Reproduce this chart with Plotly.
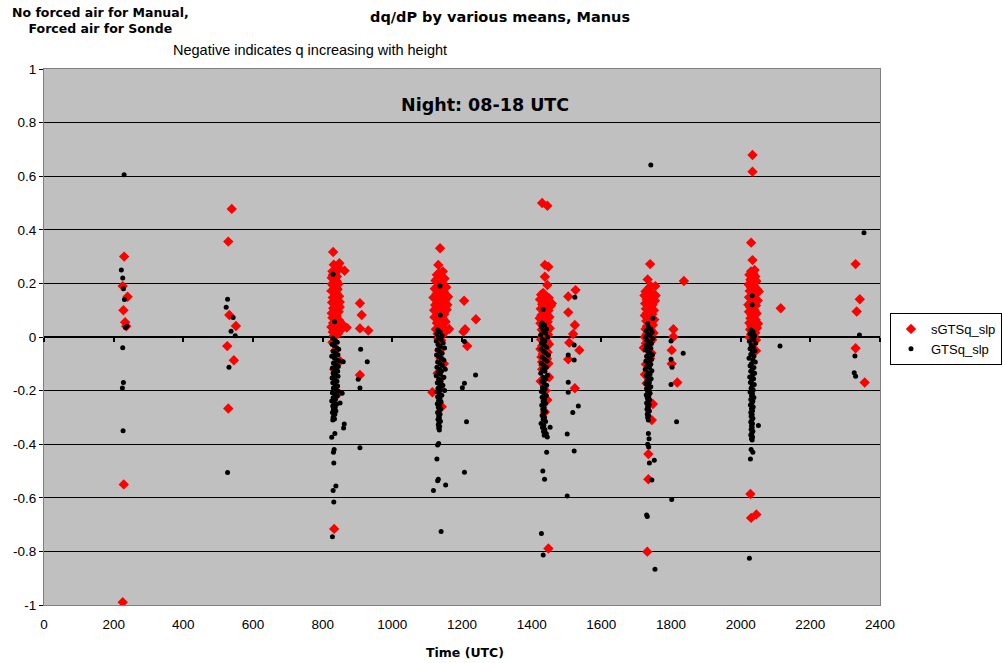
import plotly.graph_objects as go

# ---------------- data ----------------
# sGTSq_slp (red diamonds), pairs of (time UTC, dq/dP)
red_0230 = [(230, 0.30), (226, 0.19), (240, 0.15), (228, 0.10), (233, 0.055), (236, 0.04),
            (229, -0.55), (226, -0.99)]
red_0530 = [(539, 0.478), (529, 0.356), (532, 0.082), (551, 0.041), (526, -0.034),
            (545, -0.087), (529, -0.267)]
red_0830 = [(830, 0.317), (832, 0.27), (848, 0.275), (863, 0.247),
            (828, 0.245), (835, 0.238), (841, 0.226), (826, 0.221), (832, 0.214), (839, 0.209),
            (845, 0.198), (830, 0.192), (836, 0.186), (843, 0.178), (825, 0.172), (833, 0.168),
            (840, 0.161), (847, 0.152), (829, 0.147), (837, 0.141), (844, 0.136), (827, 0.129),
            (834, 0.124), (842, 0.117), (849, 0.112), (831, 0.106), (838, 0.101), (846, 0.094),
            (826, 0.089), (833, 0.083), (840, 0.078), (828, 0.072), (836, 0.066), (843, 0.061),
            (850, 0.057), (830, 0.052), (837, 0.047), (845, 0.041), (825, 0.037), (832, 0.032),
            (839, 0.028), (847, 0.024), (829, 0.019), (836, 0.015), (844, 0.012), (827, 0.198),
            (834, 0.176), (841, 0.153), (849, 0.131), (831, 0.108), (838, 0.086), (846, 0.064),
            (835, 0.043), (842, 0.026), (852, 0.035), (858, 0.045), (829, 0.231), (840, 0.207),
            (855, 0.03), (869, 0.035), (848, 0.255), (832, 0.005),
            (836, -0.05), (850, -0.09), (845, -0.21), (828, -0.02), (833, -0.12), (833, -0.716),
            (907, 0.126), (912, 0.082), (907, 0.032), (931, 0.024), (907, -0.142)]
red_1130 = [(1137, 0.331), (1132, 0.269), (1145, 0.245),
            (1135, 0.24), (1128, 0.232), (1142, 0.227), (1150, 0.218), (1124, 0.21), (1136, 0.204),
            (1145, 0.197), (1130, 0.19), (1155, 0.186), (1122, 0.18), (1139, 0.174), (1148, 0.168),
            (1127, 0.161), (1134, 0.155), (1160, 0.15), (1118, 0.147), (1143, 0.142), (1152, 0.136),
            (1129, 0.13), (1137, 0.125), (1123, 0.119), (1146, 0.113), (1133, 0.107), (1156, 0.102),
            (1126, 0.096), (1140, 0.091), (1149, 0.085), (1131, 0.08), (1121, 0.074), (1144, 0.069),
            (1136, 0.063), (1153, 0.057), (1128, 0.052), (1141, 0.046), (1134, 0.04), (1147, 0.035),
            (1125, 0.029), (1138, 0.023), (1151, 0.018), (1130, 0.012), (1143, 0.006), (1136, 0.0),
            (1132, -0.006), (1140, -0.012), (1127, 0.215), (1141, 0.185), (1132, 0.165),
            (1158, 0.12), (1120, 0.1), (1146, 0.06), (1135, 0.033), (1163, 0.03), (1130, 0.145),
            (1150, 0.155),
            (1135, -0.05), (1148, -0.1), (1130, -0.135), (1142, -0.26), (1115, -0.206), (1138, -0.08),
            (1206, 0.135), (1240, 0.066), (1209, 0.029), (1204, 0.02), (1215, -0.034)]
red_1430 = [(1430, 0.50), (1445, 0.49), (1438, 0.269), (1448, 0.262), (1438, 0.225), (1445, 0.194),
            (1433, 0.164), (1427, 0.158), (1441, 0.152), (1449, 0.146), (1424, 0.14), (1436, 0.134),
            (1445, 0.128), (1430, 0.122), (1455, 0.117), (1439, 0.111), (1426, 0.105), (1448, 0.099),
            (1434, 0.093), (1442, 0.087), (1428, 0.081), (1451, 0.075), (1437, 0.069), (1431, 0.063),
            (1446, 0.057), (1425, 0.051), (1440, 0.045), (1433, 0.039), (1452, 0.033), (1429, 0.027),
            (1444, 0.021), (1436, 0.015), (1447, 0.009), (1431, 0.003), (1439, -0.003), (1427, -0.009),
            (1443, -0.015), (1435, -0.021), (1450, -0.027), (1430, -0.033), (1441, -0.039),
            (1425, -0.045), (1437, -0.051), (1446, -0.057), (1432, -0.063), (1440, -0.069),
            (1428, -0.075), (1444, -0.081), (1436, -0.087), (1430, -0.093), (1448, -0.099),
            (1433, -0.105), (1440, -0.11), (1458, 0.125), (1423, 0.07),
            (1430, -0.12), (1450, -0.15), (1440, -0.2), (1445, -0.235), (1438, -0.28), (1426, -0.165),
            (1448, -0.789),
            (1526, 0.175), (1505, 0.151), (1505, 0.092), (1524, 0.045), (1519, 0.011), (1508, -0.021),
            (1537, -0.049), (1505, -0.083), (1524, -0.191)]
red_1730 = [(1740, 0.272), (1733, 0.215), (1755, 0.19), (1742, 0.19),
            (1733, 0.175), (1727, 0.17), (1741, 0.165), (1749, 0.16), (1724, 0.155), (1736, 0.15),
            (1745, 0.145), (1730, 0.14), (1754, 0.135), (1739, 0.13), (1726, 0.125), (1747, 0.12),
            (1734, 0.115), (1742, 0.11), (1728, 0.105), (1751, 0.1), (1737, 0.095), (1731, 0.09),
            (1746, 0.085), (1725, 0.08), (1740, 0.075), (1733, 0.07), (1752, 0.065), (1729, 0.06),
            (1744, 0.055), (1736, 0.05), (1748, 0.045), (1731, 0.04), (1739, 0.035), (1727, 0.03),
            (1743, 0.025), (1735, 0.02), (1750, 0.015), (1730, 0.01), (1741, 0.005), (1725, 0.0),
            (1737, -0.005), (1746, -0.01), (1732, -0.015), (1740, -0.02), (1728, -0.023),
            (1756, 0.155), (1722, -0.04), (1744, -0.06), (1738, 0.185),
            (1728, -0.102), (1730, -0.173), (1748, -0.25), (1745, -0.31), (1735, -0.437),
            (1735, -0.531), (1732, -0.801), (1725, -0.14), (1740, -0.08),
            (1837, 0.209), (1807, 0.029), (1807, 0.001), (1802, -0.049), (1802, -0.1), (1818, -0.17)]
red_2030 = [(2034, 0.679), (2034, 0.617), (2030, 0.352), (2034, 0.287), (2040, 0.25),
            (2030, 0.245), (2036, 0.238), (2025, 0.232), (2042, 0.226), (2032, 0.22), (2028, 0.214),
            (2045, 0.208), (2034, 0.202), (2023, 0.196), (2039, 0.19), (2030, 0.184), (2047, 0.178),
            (2026, 0.172), (2036, 0.166), (2042, 0.16), (2031, 0.154), (2024, 0.148), (2038, 0.142),
            (2049, 0.136), (2029, 0.13), (2035, 0.124), (2044, 0.118), (2027, 0.112), (2033, 0.106),
            (2040, 0.1), (2024, 0.094), (2046, 0.088), (2031, 0.082), (2037, 0.076), (2028, 0.07),
            (2043, 0.064), (2034, 0.058), (2025, 0.052), (2040, 0.046), (2031, 0.04), (2047, 0.034),
            (2027, 0.028), (2036, 0.022), (2042, 0.016), (2030, 0.01), (2038, 0.004), (2026, -0.002),
            (2034, -0.006), (2044, -0.011), (2052, 0.17), (2050, 0.05), (2022, 0.12),
            (2044, -0.051), (2028, -0.586), (2030, -0.675), (2045, -0.662),
            (2115, 0.107)]
red_2330 = [(2330, 0.272), (2342, 0.141), (2333, 0.095), (2330, -0.042), (2356, -0.17)]

# GTSq_slp (black dots)
blk_0230 = [(230, 0.605), (222, 0.25), (226, 0.22), (228, 0.18), (231, 0.14), (238, 0.04),
            (234, 0.035), (226, -0.04), (228, -0.17), (225, -0.19), (227, -0.35)]
blk_0530 = [(527, 0.141), (523, 0.111), (543, 0.073), (537, 0.021), (549, 0.005), (531, -0.113),
            (527, -0.506)]
blk_0830 = [(830, 0.234), (834, 0.057),
            (829, -0.005), (836, -0.012), (842, -0.02), (827, -0.027), (833, -0.033), (840, -0.04),
            (846, -0.046), (830, -0.053), (837, -0.06), (844, -0.066), (826, -0.072), (834, -0.079),
            (841, -0.085), (848, -0.09), (831, -0.097), (838, -0.103), (845, -0.11), (828, -0.116),
            (835, -0.122), (843, -0.128), (830, -0.134), (837, -0.14), (844, -0.146), (827, -0.153),
            (834, -0.159), (841, -0.165), (829, -0.171), (836, -0.177), (843, -0.183), (831, -0.19),
            (838, -0.196), (845, -0.202), (828, -0.208), (835, -0.214), (842, -0.22), (830, -0.227),
            (837, -0.233), (826, -0.239), (833, -0.245), (840, -0.251), (829, -0.257), (836, -0.263),
            (831, -0.27), (838, -0.276), (828, -0.282), (835, -0.288), (832, -0.294), (830, -0.3),
            (834, -0.306), (829, -0.31), (833, -0.03), (831, -0.07), (836, -0.11), (830, -0.15),
            (832, -0.19),
            (859, -0.092), (850, -0.246), (856, -0.21), (862, -0.325), (860, -0.34), (826, -0.374),
            (835, -0.36), (833, -0.42), (831, -0.43), (832, -0.47), (838, -0.556), (830, -0.573),
            (832, -0.616), (828, -0.745),
            (909, -0.046), (928, -0.092), (902, -0.158), (907, -0.19), (907, -0.413)]
blk_1130 = [(1137, 0.19), (1138, 0.082),
            (1130, 0.026), (1137, 0.02), (1128, 0.012), (1143, 0.005), (1133, -0.002), (1140, -0.009),
            (1126, -0.015), (1146, -0.022), (1131, -0.028), (1138, -0.035), (1150, -0.041),
            (1129, -0.048), (1136, -0.054), (1143, -0.061), (1127, -0.067), (1134, -0.074),
            (1141, -0.08), (1148, -0.087), (1130, -0.093), (1137, -0.1), (1144, -0.106), (1128, -0.113),
            (1135, -0.119), (1142, -0.126), (1131, -0.132), (1138, -0.139), (1126, -0.145),
            (1145, -0.152), (1133, -0.158), (1140, -0.165), (1129, -0.171), (1136, -0.178),
            (1143, -0.184), (1131, -0.191), (1138, -0.197), (1128, -0.204), (1135, -0.21),
            (1142, -0.217), (1130, -0.223), (1137, -0.23), (1133, -0.236), (1140, -0.243),
            (1129, -0.249), (1136, -0.256), (1132, -0.262), (1139, -0.269), (1134, -0.275),
            (1130, -0.282), (1137, -0.288), (1133, -0.295), (1135, -0.301), (1131, -0.308),
            (1138, -0.314), (1134, -0.321), (1132, -0.327), (1136, -0.334), (1133, -0.34),
            (1135, -0.347), (1148, -0.15), (1152, -0.12), (1145, -0.18), (1150, -0.2),
            (1133, -0.397), (1130, -0.403), (1128, -0.455), (1132, -0.531), (1130, -0.536),
            (1118, -0.573), (1153, -0.552), (1140, -0.726),
            (1207, -0.017), (1239, -0.142), (1207, -0.173), (1201, -0.189), (1213, -0.316),
            (1207, -0.505)]
blk_1430 = [(1433, 0.103), (1428, 0.046),
            (1430, 0.052), (1437, 0.045), (1428, 0.037), (1443, 0.03), (1433, 0.022), (1440, 0.015),
            (1426, 0.007), (1446, 0.0), (1431, -0.008), (1438, -0.015), (1429, -0.023), (1436, -0.03),
            (1443, -0.038), (1427, -0.045), (1434, -0.053), (1441, -0.06), (1448, -0.068),
            (1430, -0.075), (1437, -0.083), (1444, -0.09), (1428, -0.098), (1435, -0.105),
            (1442, -0.113), (1431, -0.12), (1438, -0.128), (1426, -0.135), (1445, -0.143),
            (1433, -0.15), (1440, -0.158), (1429, -0.165), (1436, -0.173), (1443, -0.18),
            (1431, -0.188), (1438, -0.195), (1428, -0.203), (1435, -0.21), (1442, -0.218),
            (1430, -0.225), (1437, -0.233), (1433, -0.24), (1440, -0.248), (1429, -0.255),
            (1436, -0.263), (1432, -0.27), (1439, -0.278), (1434, -0.285), (1430, -0.293),
            (1437, -0.3), (1433, -0.308), (1440, -0.315), (1427, -0.323), (1435, -0.33),
            (1431, -0.338), (1438, -0.345), (1434, -0.353), (1442, -0.36), (1436, -0.367),
            (1445, -0.373), (1453, -0.337),
            (1443, -0.43), (1432, -0.5), (1437, -0.531), (1428, -0.733), (1433, -0.813),
            (1524, 0.148), (1522, -0.03), (1505, -0.067), (1522, -0.086), (1505, -0.169),
            (1505, -0.206), (1534, -0.257), (1518, -0.282), (1502, -0.362), (1522, -0.425),
            (1502, -0.593)]
blk_1730 = [(1742, 0.642), (1748, 0.07), (1733, 0.05),
            (1735, 0.037), (1742, 0.03), (1729, 0.024), (1746, 0.018), (1733, 0.012), (1740, 0.006),
            (1727, 0.0), (1748, -0.006), (1731, -0.012), (1738, -0.018), (1744, -0.024),
            (1728, -0.03), (1735, -0.036), (1742, -0.042), (1726, -0.048), (1733, -0.054),
            (1740, -0.06), (1747, -0.066), (1730, -0.072), (1737, -0.078), (1744, -0.084),
            (1728, -0.09), (1735, -0.096), (1742, -0.102), (1731, -0.108), (1738, -0.114),
            (1726, -0.12), (1745, -0.126), (1733, -0.132), (1740, -0.138), (1729, -0.144),
            (1736, -0.15), (1743, -0.156), (1731, -0.162), (1738, -0.168), (1728, -0.174),
            (1735, -0.18), (1742, -0.186), (1730, -0.192), (1737, -0.198), (1733, -0.204),
            (1740, -0.21), (1729, -0.216), (1736, -0.222), (1732, -0.228), (1739, -0.234),
            (1734, -0.24), (1730, -0.246), (1737, -0.252), (1733, -0.258), (1735, -0.264),
            (1731, -0.27), (1738, -0.276), (1734, -0.282), (1732, -0.288), (1736, -0.294),
            (1733, -0.3), (1735, -0.31),
            (1735, -0.36), (1737, -0.38), (1733, -0.4), (1736, -0.41), (1738, -0.47), (1752, -0.46),
            (1745, -0.534), (1730, -0.664), (1732, -0.67), (1754, -0.867),
            (1800, -0.015), (1835, -0.061), (1800, -0.083), (1803, -0.113), (1800, -0.177),
            (1816, -0.316), (1802, -0.606)]
blk_2030 = [(2033, 0.154), (2033, 0.12),
            (2030, 0.026), (2036, 0.019), (2027, 0.012), (2040, 0.005), (2032, -0.002), (2038, -0.009),
            (2025, -0.016), (2043, -0.023), (2030, -0.03), (2036, -0.037), (2027, -0.044),
            (2041, -0.051), (2033, -0.058), (2029, -0.065), (2038, -0.072), (2024, -0.079),
            (2035, -0.086), (2042, -0.093), (2031, -0.1), (2027, -0.107), (2038, -0.114),
            (2033, -0.121), (2029, -0.128), (2040, -0.135), (2034, -0.142), (2026, -0.149),
            (2037, -0.156), (2031, -0.163), (2028, -0.17), (2039, -0.177), (2033, -0.184),
            (2030, -0.191), (2036, -0.198), (2027, -0.205), (2034, -0.212), (2031, -0.219),
            (2038, -0.226), (2029, -0.233), (2035, -0.24), (2032, -0.247), (2028, -0.254),
            (2036, -0.261), (2031, -0.268), (2034, -0.275), (2029, -0.282), (2033, -0.289),
            (2030, -0.296), (2035, -0.303), (2032, -0.31), (2029, -0.317), (2034, -0.324),
            (2031, -0.331), (2033, -0.338), (2030, -0.345), (2035, -0.352), (2032, -0.359),
            (2029, -0.366), (2034, -0.373), (2031, -0.38), (2033, -0.384),
            (2051, -0.33), (2030, -0.42), (2035, -0.43), (2028, -0.455), (2025, -0.826),
            (2113, -0.034)]
blk_2330 = [(2354, 0.389), (2341, 0.007), (2328, -0.071), (2326, -0.133), (2330, -0.146)]

x_ticks = [0, 200, 400, 600, 800, 1000, 1200, 1400, 1600, 1800, 2000, 2200, 2400]
y_ticks = [1, 0.8, 0.6, 0.4, 0.2, 0, -0.2, -0.4, -0.6, -0.8, -1]
y_tick_text = ["1", "0.8", "0.6", "0.4", "0.2", "0", "-0.2", "-0.4", "-0.6", "-0.8", "-1"]

red_all = red_0230 + red_0530 + red_0830 + red_1130 + red_1430 + red_1730 + red_2030 + red_2330
blk_all = blk_0230 + blk_0530 + blk_0830 + blk_1130 + blk_1430 + blk_1730 + blk_2030 + blk_2330

FONT = "Liberation Sans, Arial, sans-serif"
BOLD_FONT = "DejaVu Sans, Liberation Sans, sans-serif"

fig = go.Figure()
fig.add_trace(go.Scatter(
    x=[p[0] for p in red_all], y=[p[1] for p in red_all], mode="markers", name="sGTSq_slp",
    marker=dict(symbol="diamond", size=8, color="#FF0000", line=dict(width=0))))
fig.add_trace(go.Scatter(
    x=[p[0] for p in blk_all], y=[p[1] for p in blk_all], mode="markers", name="GTSq_slp",
    marker=dict(symbol="circle", size=5, color="#000000", line=dict(width=0))))
# empty trace to carry the tick marks drawn on the zero line
fig.add_trace(go.Scatter(x=[], y=[], xaxis="x2", showlegend=False, hoverinfo="skip"))

fig.update_layout(
    width=1003, height=663,
    margin=dict(l=44, r=123, t=69, b=58, autoexpand=False),
    paper_bgcolor="white", plot_bgcolor="#C0C0C0",
    font=dict(family=FONT, size=12, color="black"),
    showlegend=True,
    legend=dict(xref="container", yref="container", x=0.999, y=0.528,
                xanchor="right", yanchor="top",
                bgcolor="white", bordercolor="black", borderwidth=1,
                font=dict(family=FONT, size=13), itemwidth=30,
                tracegroupgap=0),
    xaxis=dict(range=[0, 2400], tickvals=x_ticks, ticks="", showgrid=False, zeroline=False,
               showline=True, linecolor="#808080", linewidth=1, mirror=True,
               tickfont=dict(family=FONT, size=13.5), ticklabelstandoff=7),
    xaxis2=dict(range=[0, 2400], matches="x", overlaying="x", anchor="free", position=0.5,
                side="bottom", tickvals=x_ticks, showticklabels=False, ticks="outside",
                ticklen=4, tickwidth=2, tickcolor="black", showgrid=False, zeroline=False,
                showline=False),
    yaxis=dict(range=[-1, 1], tickvals=y_ticks, ticktext=y_tick_text, ticks="outside",
               ticklen=4, tickcolor="black", showgrid=True, gridcolor="#000000", gridwidth=1,
               zeroline=True, zerolinecolor="black", zerolinewidth=2,
               showline=True, linecolor="#808080", linewidth=1, mirror=True,
               tickfont=dict(family=FONT, size=13.5)),
)

annotations = [
    dict(text="<b>dq/dP by various means, Manus</b>", x=0.545, y=1.097,
         font=dict(family=BOLD_FONT, size=14.5)),
    dict(text="<b>No forced air for Manual,<br>Forced air for Sonde</b>", x=0.068, y=1.0896,
         font=dict(family=BOLD_FONT, size=12.5), align="center"),
    dict(text="Negative indicates q increasing with height", x=0.318, y=1.0354,
         font=dict(family=FONT, size=14.5)),
    dict(text="<b>Night: 08-18 UTC</b>", x=0.5275, y=0.933,
         font=dict(family=BOLD_FONT, size=17.5)),
    dict(text="<b>Time (UTC)</b>", x=0.5036, y=-0.0877,
         font=dict(family=BOLD_FONT, size=12.5)),
]
for a in annotations:
    fig.add_annotation(xref="paper", yref="paper", showarrow=False, xanchor="center",
                       yanchor="middle", **a)

fig.write_html("out.html")
